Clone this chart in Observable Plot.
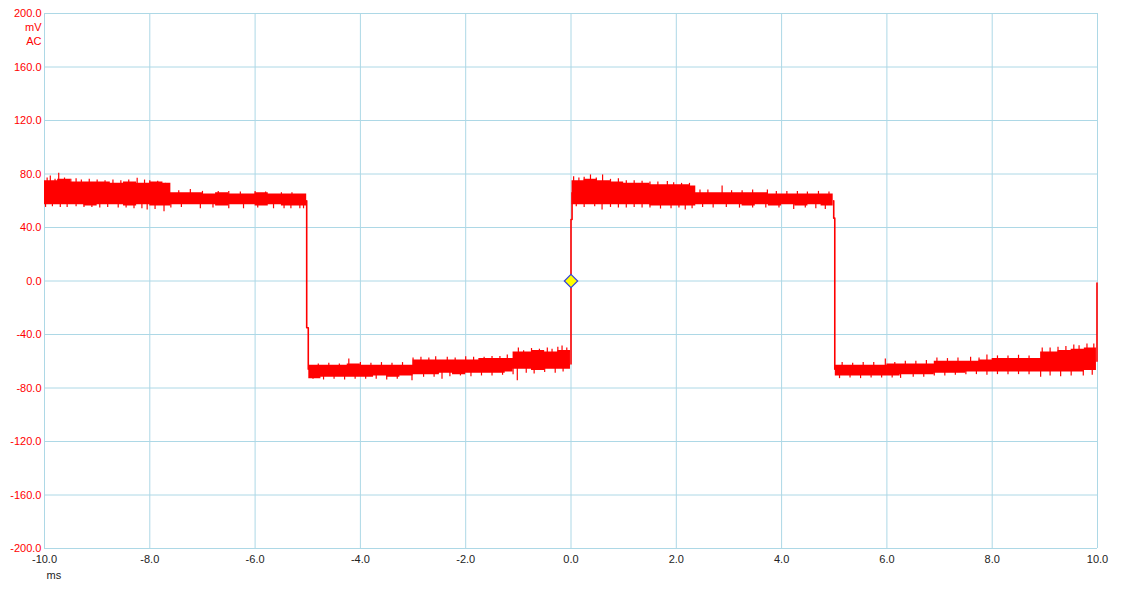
<!DOCTYPE html>
<html>
<head>
<meta charset="utf-8">
<script src="https://cdn.jsdelivr.net/npm/d3@7"></script>
<script src="https://cdn.jsdelivr.net/npm/@observablehq/plot@0.6"></script>
<style>
  html, body { margin: 0; padding: 0; background: #ffffff; }
  #chart svg { display: block; }
</style>
</head>
<body>
<div id="chart"></div>
<script>
// Axis ticks
const xTicks = [-10, -8, -6, -4, -2, 0, 2, 4, 6, 8, 10];
const yTicks = [-200, -160, -120, -80, -40, 0, 40, 80, 120, 160, 200];
const xUnit = "ms";
const yUnit1 = "mV";
const yUnit2 = "AC";

// Noise band envelope pieces (ms start, upper mV, lower mV), one list per half-cycle
const segAT = [-10.0, -9.75, -9.5, -9.25, -9.0, -8.75, -8.5, -8.25, -8.0, -7.75, -7.6, -7.25, -7.0, -6.75, -6.5, -6.25, -6.0, -5.75, -5.5, -5.25, -5.02];
const segAHi = [75, 76, 74, 74, 74, 73, 74, 73, 74, 73, 66, 66, 65, 66, 65, 65, 66, 65, 65, 65, 65];
const segALo = [57, 57, 57, 56, 57, 57, 56, 57, 56, 56, 57, 57, 57, 56, 57, 57, 56, 57, 56, 56, 56];

const segBT = [-4.98, -4.75, -4.5, -4.25, -4.0, -3.75, -3.5, -3.25, -3.0, -2.75, -2.5, -2.25, -2.0, -1.75, -1.5, -1.25, -1.1, -0.75, -0.5, -0.25, -0.01];
const segBHi = [-63, -63, -63, -62, -63, -63, -63, -63, -59, -59, -59, -59, -59, -58, -58, -58, -53, -52, -53, -52, -52];
const segBLo = [-73, -72, -72, -72, -72, -71, -72, -71, -70, -70, -69, -70, -69, -69, -69, -68, -66, -67, -66, -66, -66];

const segCT = [0.02, 0.25, 0.5, 0.75, 1.0, 1.25, 1.5, 1.75, 2.0, 2.25, 2.37, 2.75, 3.0, 3.25, 3.5, 3.75, 4.0, 4.25, 4.5, 4.75, 4.98];
const segCHi = [75, 76, 75, 74, 73, 73, 72, 72, 72, 71, 66, 66, 66, 66, 66, 65, 65, 65, 65, 65, 65];
const segCLo = [57, 57, 57, 57, 57, 57, 56, 56, 56, 56, 57, 57, 57, 56, 57, 56, 57, 56, 57, 56, 56];

const segDT = [5.02, 5.25, 5.5, 5.75, 6.0, 6.25, 6.5, 6.9, 7.25, 7.5, 7.75, 8.0, 8.25, 8.5, 8.75, 8.92, 9.25, 9.5, 9.75, 9.98];
const segDHi = [-63, -63, -63, -63, -62, -62, -62, -60, -60, -60, -59, -58, -58, -58, -58, -53, -52, -51, -50, -50];
const segDLo = [-71, -71, -71, -71, -71, -70, -70, -69, -69, -68, -68, -68, -68, -68, -68, -68, -68, -68, -67, -67];

// Noise spikes beyond the band core (ms, mV)
const spikeT = [
  -9.95, -9.89, -9.8, -9.73, -9.62, -9.5, -9.4, -9.3, -9.15, -9.0, -8.85, -8.7, -8.55, -8.4, -8.24, -8.1, -8.0, -7.85, -7.7, -7.45, -7.23, -7.0, -6.7, -6.5, -6.28, -6.0, -5.8, -5.5, -5.3,
  -9.98, -9.85, -9.7, -9.57, -9.4, -9.25, -9.1, -8.95, -8.8, -8.6, -8.45, -8.3, -8.15, -8.05, -7.9, -7.73, -7.6, -7.4, -7.04, -6.8, -6.5, -6.22, -5.95, -5.65, -5.45, -5.32, -5.15, -5.08,
  -4.8, -4.6, -4.4, -4.22, -4.0, -3.8, -3.6, -3.4, -3.2, -3.0, -2.85, -2.7, -2.57, -2.35, -2.2, -2.0, -1.85, -1.65, -1.5, -1.35, -1.21, -1.0, -0.9, -0.75, -0.6, -0.45, -0.36, -0.25, -0.17, -0.08,
  -4.9, -4.7, -4.5, -4.3, -4.1, -3.9, -3.7, -3.5, -3.3, -3.02, -2.8, -2.6, -2.45, -2.3, -2.1, -1.9, -1.7, -1.5, -1.3, -1.1, -1.02, -0.85, -0.7, -0.5, -0.3, -0.15,
  0.05, 0.15, 0.25, 0.37, 0.48, 0.6, 0.75, 0.9, 1.05, 1.2, 1.35, 1.5, 1.65, 1.83, 1.95, 2.1, 2.25, 2.45, 2.6, 2.87, 3.05, 3.25, 3.45, 3.73, 3.9, 4.1, 4.3, 4.49, 4.7, 4.9,
  0.1, 0.25, 0.45, 0.59, 0.75, 0.9, 1.05, 1.2, 1.35, 1.5, 1.7, 1.9, 2.05, 2.17, 2.3, 2.5, 2.7, 2.95, 3.2, 3.45, 3.7, 3.95, 4.23, 4.45, 4.65, 4.83,
  5.15, 5.35, 5.55, 5.75, 5.97, 6.15, 6.35, 6.55, 6.75, 6.95, 7.15, 7.35, 7.59, 7.75, 7.9, 8.1, 8.3, 8.5, 8.7, 8.95, 9.1, 9.25, 9.4, 9.55, 9.65, 9.8, 9.93,
  5.1, 5.3, 5.5, 5.7, 5.9, 6.1, 6.26, 6.5, 6.7, 6.9, 7.1, 7.3, 7.5, 7.7, 7.9, 8.1, 8.3, 8.5, 8.7, 8.92, 9.1, 9.3, 9.5, 9.73, 9.9
];
const spikeV = [
  77, 78.5, 76, 80.5, 77, 76, 76.5, 75.5, 76, 75.5, 75, 75.5, 75, 75.5, 76.8, 75.5, 75, 74.5, 73, 67.5, 68.5, 67, 67, 67, 66.5, 67, 66.5, 66, 66,
  55, 55.5, 55, 55, 55.5, 55, 55, 54.5, 55, 54.5, 54.5, 54, 54, 53, 53.5, 51.8, 54.5, 55, 54, 54.5, 54, 54, 54.5, 54, 54, 54, 54, 54,
  -62, -61.5, -62, -58.3, -61, -61.5, -61, -61.5, -61, -57.5, -57, -57.5, -56.6, -57, -57.5, -56.6, -57, -57, -56.5, -56.5, -55.3, -50, -52.1, -50.5, -51, -50, -51.1, -49.5, -48.6, -50,
  -73.5, -74, -73.5, -74, -73.5, -73.5, -73.5, -74, -73.5, -74.5, -72, -72, -73.5, -71.5, -71, -71.5, -71, -71, -70.5, -70, -74.5, -69, -69.5, -68.5, -69, -68,
  78, 77, 77.5, 79.3, 77, 79.3, 76, 76.5, 75, 75, 74.5, 74, 74, 74.3, 73.5, 73, 73, 68, 68, 71, 67.5, 67.5, 68, 68, 67, 67, 67, 66.5, 67, 66.5,
  55.5, 55, 55.5, 53, 55, 54.5, 54.5, 55, 54.5, 54.5, 53.8, 54, 54.5, 53, 54, 55, 54.5, 55, 54.5, 54.5, 54.5, 54.5, 53.5, 54.5, 54, 53.5,
  -61, -61.5, -61, -61, -58.3, -61, -60, -60, -59.5, -57.5, -58, -57.5, -57, -57.5, -55.3, -56, -56, -55.5, -56, -50, -50, -49.5, -49, -47.9, -48.5, -47.1, -47.1,
  -73, -72.5, -73, -72.5, -72.5, -72.5, -72.8, -72, -72, -71, -71, -70.5, -70, -70, -70.5, -70, -70, -70, -70, -72, -71, -71.5, -71, -71, -70.5
];

// Transition edges of the trace (ms, mV, edge id)
const edgeT = [-5.02, -5.02, -4.99, -4.99, 0.0, 0.0, 0.02, 0.02, 4.99, 4.99, 5.01, 5.01, 9.99, 9.99];
const edgeV = [60, -35, -35, -66, -62, 46, 46, 66, 60, 47, 47, -66, -60, -1.5];
const edgeId = [0, 0, 0, 0, 1, 1, 1, 1, 2, 2, 2, 2, 3, 3];

// Trigger marker
const markerT = [0];
const markerV = [0];

// ---- build tables ----
const bands = [];
[[segAT, segAHi, segALo, "A"], [segBT, segBHi, segBLo, "B"], [segCT, segCHi, segCLo, "C"], [segDT, segDHi, segDLo, "D"]]
  .forEach(([T, H, L, id]) => T.forEach((t, i) => bands.push({t, hi: H[i], lo: L[i], id})));
const spikes = spikeT.map((t, i) => {
  const b = bands.filter(d => d.t <= t).pop() || bands[0];
  return {t, v: spikeV[i], mid: (b.hi + b.lo) / 2};
});
const edges = edgeT.map((t, i) => ({t, v: edgeV[i], id: edgeId[i]}));
const markers = markerT.map((t, i) => ({t, v: markerV[i]}));

const red = "#ff0000";
const gridColor = "#add8e6";
const dark = "#222222";

const chart = Plot.plot({
  width: 1126,
  height: 589,
  marginLeft: 44,
  marginRight: 29,
  marginTop: 13,
  marginBottom: 41,
  style: {fontFamily: "'Liberation Sans', Arial, sans-serif", fontSize: "11px", background: "#ffffff", overflow: "visible"},
  x: {domain: [-10, 10]},
  y: {domain: [-200, 200]},
  marks: [
    Plot.gridX(xTicks, {stroke: gridColor, strokeOpacity: 1, strokeWidth: 1}),
    Plot.gridY(yTicks, {stroke: gridColor, strokeOpacity: 1, strokeWidth: 1}),
    Plot.axisX(xTicks, {tickSize: 0, tickPadding: 7, tickFormat: d => d.toFixed(1), color: dark, label: null}),
    Plot.axisY(yTicks, {tickSize: 0, tickPadding: 3, tickFormat: d => d.toFixed(1), color: red, label: null}),
    Plot.text([yUnit1], {x: () => -10, y: () => 200, text: d => d, dy: 14, dx: -3, textAnchor: "end", fill: red}),
    Plot.text([yUnit2], {x: () => -10, y: () => 200, text: d => d, dy: 28, dx: -3, textAnchor: "end", fill: red}),
    Plot.text([xUnit], {x: () => -10, y: () => -200, text: d => d, dy: 27, dx: 2, textAnchor: "start", fill: dark}),
    Plot.areaY(bands, {x: "t", y1: "lo", y2: "hi", z: "id", curve: "step-after", fill: red}),
    Plot.ruleX(spikes, {x: "t", y1: "mid", y2: "v", stroke: red, strokeWidth: 1.2}),
    Plot.line(edges, {x: "t", y: "v", z: "id", stroke: red, strokeWidth: 1.6}),
    Plot.dot(markers, {x: "t", y: "v", symbol: "diamond2", r: 6, fill: "#ffff00", stroke: "#3344dd", strokeWidth: 1.2})
  ]
});
document.getElementById("chart").appendChild(chart);
</script>
</body>
</html>
